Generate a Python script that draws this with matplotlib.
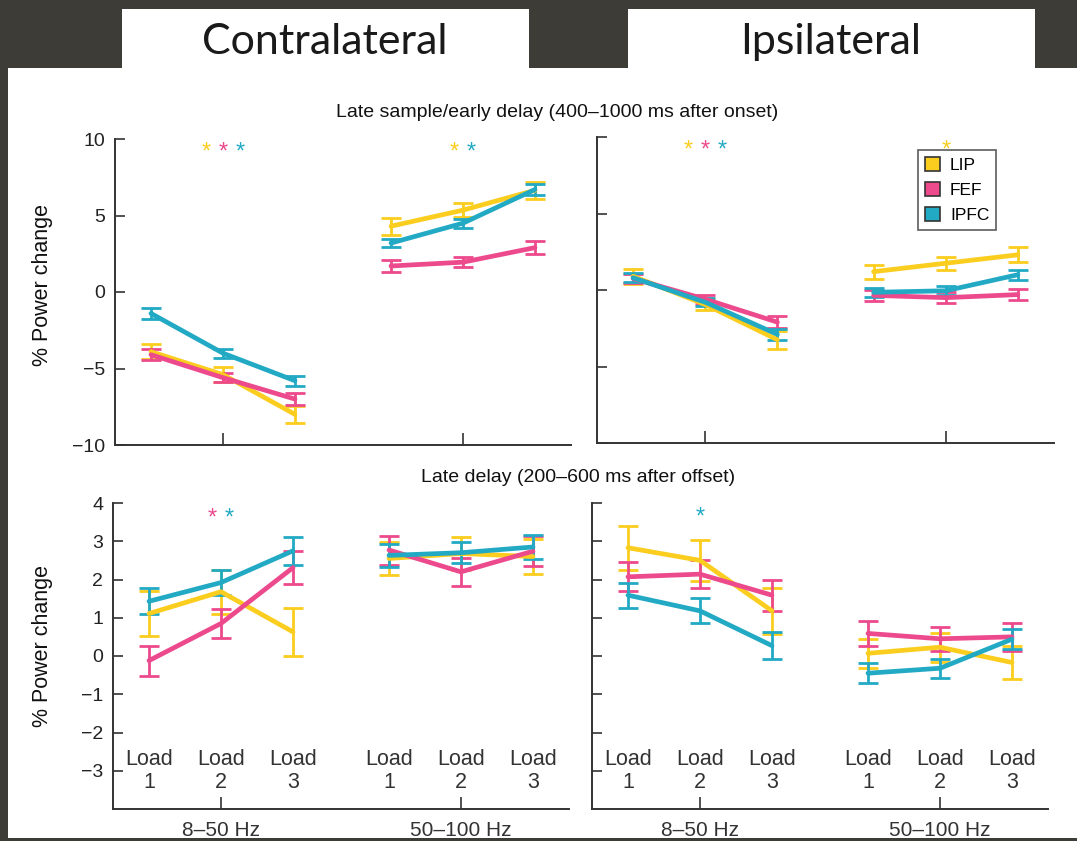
import matplotlib
matplotlib.use("Agg")
import matplotlib.pyplot as plt
from matplotlib.patches import Rectangle, Patch

plt.rcParams['font.family'] = ['Liberation Sans', 'DejaVu Sans']

# ---------------- data ----------------
areas = ["LIP", "FEF", "IPFC"]
colors = {"LIP": "#fbcd1e", "FEF": "#ec4a8c", "IPFC": "#22a9c4"}
bands = ["8\u201350 Hz", "50\u2013100 Hz"]
loads = ["1", "2", "3"]

# Contralateral, late sample / early delay
contra_early_mean = {
    "LIP":  [-3.9, -5.4, -8.0, 4.3, 5.35, 6.65],
    "FEF":  [-4.1, -5.6, -7.0, 1.7, 1.95, 2.9],
    "IPFC": [-1.4, -4.0, -5.8, 3.2, 4.5, 6.7],
}
contra_early_err = {
    "LIP":  [0.5, 0.5, 0.55, 0.55, 0.45, 0.55],
    "FEF":  [0.35, 0.3, 0.4, 0.38, 0.33, 0.43],
    "IPFC": [0.35, 0.3, 0.33, 0.28, 0.3, 0.33],
}
# Ipsilateral, late sample / early delay
ipsi_early_mean = {
    "LIP":  [0.9, -0.95, -3.25, 1.2, 1.75, 2.3],
    "FEF":  [0.75, -0.6, -2.1, -0.35, -0.5, -0.3],
    "IPFC": [0.8, -0.8, -2.9, -0.15, -0.05, 1.0],
}
ipsi_early_err = {
    "LIP":  [0.5, 0.33, 0.6, 0.45, 0.43, 0.5],
    "FEF":  [0.3, 0.3, 0.4, 0.35, 0.36, 0.38],
    "IPFC": [0.3, 0.25, 0.35, 0.3, 0.3, 0.33],
}
# Contralateral, late delay
contra_late_mean = {
    "LIP":  [1.11, 1.68, 0.63, 2.55, 2.68, 2.6],
    "FEF":  [-0.12, 0.85, 2.31, 2.77, 2.2, 2.74],
    "IPFC": [1.43, 1.92, 2.75, 2.63, 2.7, 2.85],
}
contra_late_err = {
    "LIP":  [0.58, 0.57, 0.62, 0.42, 0.43, 0.45],
    "FEF":  [0.39, 0.39, 0.43, 0.38, 0.36, 0.4],
    "IPFC": [0.34, 0.33, 0.37, 0.3, 0.28, 0.31],
}
# Ipsilateral, late delay
ipsi_late_mean = {
    "LIP":  [2.83, 2.5, 1.18, 0.07, 0.23, -0.17],
    "FEF":  [2.07, 2.14, 1.59, 0.59, 0.45, 0.5],
    "IPFC": [1.59, 1.18, 0.27, -0.45, -0.32, 0.44],
}
ipsi_late_err = {
    "LIP":  [0.57, 0.54, 0.6, 0.38, 0.38, 0.42],
    "FEF":  [0.38, 0.37, 0.41, 0.33, 0.32, 0.36],
    "IPFC": [0.33, 0.33, 0.36, 0.26, 0.25, 0.27],
}
# significance stars: per band, list of areas
stars_contra_early = [["LIP", "FEF", "IPFC"], ["LIP", "IPFC"]]
stars_ipsi_early = [["LIP", "FEF", "IPFC"], ["LIP"]]
stars_contra_late = [["FEF", "IPFC"], []]
stars_ipsi_late = [["IPFC"], []]

early_ticks = [-10, -5, 0, 5, 10]
late_ticks = [-3, -2, -1, 0, 1, 2, 3, 4]

title_early = "Late sample/early delay (400\u20131000 ms after onset)"
title_late = "Late delay (200\u2013600 ms after offset)"

# ---------------- layout ----------------
W, H = 1077, 841
fig = plt.figure(figsize=(W / 100, H / 100), dpi=100, facecolor="#3d3c36")


def frect(x0, y0, x1, y1, **kw):
    r = Rectangle((x0 / W, 1 - y1 / H), (x1 - x0) / W, (y1 - y0) / H,
                  transform=fig.transFigure, zorder=-5, **kw)
    fig.add_artist(r)


frect(8, 68, W, 838, facecolor="white", edgecolor="none")
frect(122, 9, 529, 69, facecolor="white", edgecolor="none")
frect(628, 9, 1035, 69, facecolor="white", edgecolor="none")

fig.text(325 / W, 1 - 42 / H, "Contralateral", ha="center", va="center",
         fontsize=31, family=["Lato", "DejaVu Sans"], weight="normal",
         color="#1a1a1a")
fig.text(831 / W, 1 - 42 / H, "Ipsilateral", ha="center", va="center",
         fontsize=31, family=["Lato", "DejaVu Sans"], weight="normal",
         color="#1a1a1a")

fig.text(557 / W, 1 - 113 / H, title_early, ha="center", va="center",
         fontsize=14, color="#111")
fig.text(578 / W, 1 - 478 / H, title_late, ha="center", va="center",
         fontsize=14, color="#111")

fig.text(43 / W, 1 - 285 / H, "% Power change", rotation=90, ha="center",
         va="center", fontsize=15.5, color="#111")
fig.text(43 / W, 1 - 646 / H, "% Power change", rotation=90, ha="center",
         va="center", fontsize=15.5, color="#111")


def axrect(x0, y0, x1, y1):
    return fig.add_axes([x0 / W, 1 - y1 / H, (x1 - x0) / W, (y1 - y0) / H])


GAP = 10 / 3
xpos = [-1, 0, 1, GAP - 1, GAP, GAP + 1]
centers = [0, GAP]
spine_col = "#333333"


def panel(ax, means, errs, ylim, yticks, ylabels, xlabels, stars, star_y,
          load_labels):
    for a in areas:
        c = colors[a]
        m = means[a]
        e = errs[a]
        ax.errorbar(xpos, m, yerr=e, fmt="none", ecolor=c, elinewidth=2.0,
                    capsize=7, capthick=2.0, zorder=3)
        ax.plot(xpos[:3], m[:3], color=c, lw=3.4, solid_capstyle="round",
                zorder=4)
        ax.plot(xpos[3:], m[3:], color=c, lw=3.4, solid_capstyle="round",
                zorder=4)
    ax.set_xlim(-1.5, GAP + 1.5)
    ax.set_ylim(*ylim)
    ax.set_facecolor("none")
    for s in ("top", "right"):
        ax.spines[s].set_visible(False)
    for s in ("left", "bottom"):
        ax.spines[s].set_color(spine_col)
        ax.spines[s].set_linewidth(1.4)
    ax.set_yticks(yticks)
    if ylabels:
        ax.set_yticklabels([str(t).replace("-", "\u2212") for t in yticks])
    else:
        ax.set_yticklabels([])
    ax.set_xticks(centers)
    if xlabels:
        ax.set_xticklabels(bands)
    else:
        ax.set_xticklabels([])
    ax.tick_params(axis="y", direction="in", length=7.5, width=1.2,
                   color=spine_col, labelsize=14, pad=7, labelcolor="#222")
    ax.tick_params(axis="x", direction="in", length=8.5, width=1.2,
                   color=spine_col, labelsize=15, pad=9, labelcolor="#333")
    for gi, lst in enumerate(stars):
        n = len(lst)
        for k, a in enumerate(lst):
            off = (k - (n - 1) / 2) * 0.235
            ax.text(centers[gi] + off, star_y, "*", color=colors[a],
                    ha="center", va="baseline", fontsize=17, zorder=6)
    if load_labels:
        for x, ld in zip(xpos, loads * 2):
            ax.text(x, load_labels[0], "Load", ha="center", va="baseline",
                    fontsize=15.5, color="#333")
            ax.text(x, load_labels[1], ld, ha="center", va="baseline",
                    fontsize=15.5, color="#333")


ax_tl = axrect(115, 139, 571, 445)
ax_tr = axrect(597, 137, 1054, 443)
ax_bl = axrect(113, 503, 569, 809)
ax_br = axrect(592, 503, 1048, 809)

panel(ax_tl, contra_early_mean, contra_early_err, (-10, 10), early_ticks,
      True, False, stars_contra_early, 8.7, None)
panel(ax_tr, ipsi_early_mean, ipsi_early_err, (-10, 10), early_ticks,
      False, False, stars_ipsi_early, 8.75, None)
panel(ax_bl, contra_late_mean, contra_late_err, (-4, 4), late_ticks,
      True, True, stars_contra_late, 3.45, (-2.86, -3.45))
panel(ax_br, ipsi_late_mean, ipsi_late_err, (-4, 4), late_ticks,
      False, True, stars_ipsi_late, 3.47, (-2.86, -3.45))

handles = [Patch(facecolor=colors[a], edgecolor="#333", linewidth=1.2,
                 label=a) for a in areas]
leg = ax_tr.legend(handles=handles, loc="upper left",
                   bbox_to_anchor=(0.702, 0.958), frameon=True,
                   fancybox=False, fontsize=12.5, handlelength=0.9,
                   handleheight=0.9, handletextpad=0.55, labelspacing=0.5,
                   borderpad=0.4, borderaxespad=0)
leg.get_frame().set_edgecolor("#333")
leg.get_frame().set_linewidth(1.2)
leg.set_zorder(10)

fig.savefig("out.png", dpi=100, facecolor=fig.get_facecolor())
